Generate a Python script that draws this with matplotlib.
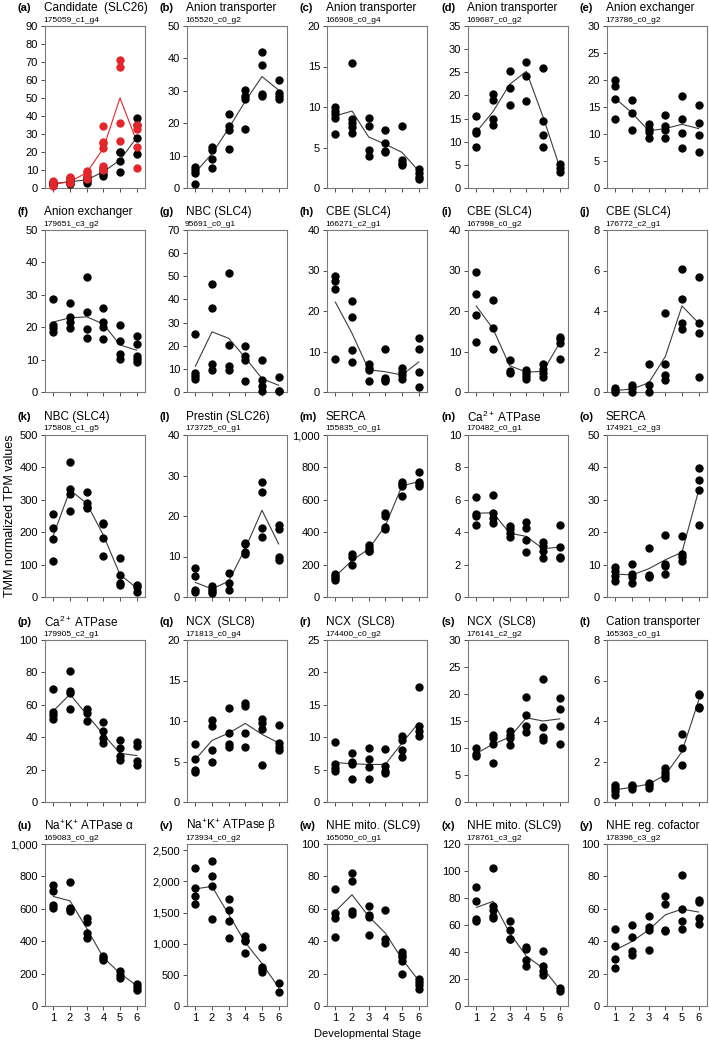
import numpy as np
import matplotlib
matplotlib.use("Agg")
import matplotlib.pyplot as plt
from matplotlib.ticker import FuncFormatter

plt.rcParams['font.family'] = ['Liberation Sans', 'DejaVu Sans']
plt.rcParams['mathtext.fontset'] = 'custom'
plt.rcParams['mathtext.rm'] = 'Liberation Sans'
plt.rcParams['mathtext.it'] = 'Liberation Sans:italic'
plt.rcParams['mathtext.bf'] = 'Liberation Sans:bold'

stages = [1, 2, 3, 4, 5, 6]

# ---------------- data (replicate values per stage, and mean line) ----------------
a_pts = [[1.5, 2.5, 3, 3.5], [2, 3, 4.5, 5.5], [3, 4, 5, 6], [6.5, 8, 9.5, 11], [9, 15, 20, 20], [19, 28, 35, 39]]
a_mean = [2.5, 3.5, 4.5, 9, 15.5, 28]
a_red_pts = [[1, 3, 4], [3, 5, 6], [5, 7, 9, 9.5], [10, 12, 22.5, 25, 25.5, 34.5], [26, 36, 67.5, 71], [11, 23, 33, 35]]
a_red_mean = [2, 3.5, 8.5, 22, 50, 26]

b_pts = [[1.2, 4.5, 5.5, 6.5], [6.2, 9, 11.7, 12.7], [11.9, 18, 19, 22.9], [18.2, 27.6, 28.3, 30.4], [28.3, 29, 38, 42], [27.6, 28.3, 29.3, 33.4]]
b_mean = [4.8, 10.6, 18.4, 26.8, 34.4, 30.2]

c_pts = [[6.7, 8.7, 9.1, 9.5, 10], [6.8, 7.5, 8, 8.5, 15.4], [3.9, 4.7, 7.7, 8.6], [4.4, 4.6, 5.6, 7.1], [2.9, 3.1, 3.4, 7.7], [1.1, 1.4, 1.9, 2.4]]
c_mean = [8.9, 9.5, 6.3, 5.4, 4.4, 2.1]

d_pts = [[8.9, 11.8, 12.3, 15.5], [13.6, 14.9, 19, 20.3], [17.9, 21.7, 25.2], [18.9, 24.3, 27.2], [8.9, 11.5, 14.5, 25.9], [3.4, 4.3, 5.2]]
d_mean = [12.1, 16.5, 22.4, 25.2, 15.4, 4.5]

e_pts = [[12.8, 16.5, 18.9, 20], [10.8, 13.9, 16.3], [9.3, 10.3, 11, 11.8], [9.3, 10.7, 11.5, 13.6], [7.4, 10.1, 12.8, 17], [6.7, 9.8, 12.1, 15.4]]
e_mean = [16.6, 13.9, 10.6, 11, 11.8, 11]

f_pts = [[18.6, 19.6, 20.6, 28.6], [19.6, 21.6, 23.2, 27.6], [16.6, 19.3, 24.8, 35.6], [16.5, 20, 21.6, 26], [10.3, 11.6, 15.7, 20.7], [9.2, 10.2, 11, 14.7, 17.3]]
f_mean = [21.6, 22.9, 23.2, 21, 14.5, 12.9]

g_pts = [[5.6, 6.8, 8, 25.2], [9.7, 12.3, 36.3, 46.6], [9.3, 11.4, 20.5, 51.5], [4.6, 14, 15.5, 19.8], [0.6, 2.5, 5.4, 13.7], [0.3, 0.5, 6.4]]
g_mean = [11.1, 26, 23.2, 14.8, 5.8, 2.9]

h_pts = [[8.2, 25.4, 27.4, 28.7], [7.4, 10.3, 18.4, 22.5], [2.6, 5.4, 6, 6.9], [2.8, 3.0, 3.5, 10.5], [3.1, 4.1, 5, 6], [1.2, 5, 10.5, 13.4]]
h_mean = [22.2, 14.5, 5.5, 5.0, 4.2, 7.4]

i_pts = [[12.4, 19.1, 24.3, 29.7], [10.7, 15.9, 22.6], [5.1, 4.7, 8], [3.3, 3.9, 4.7, 5.4], [3.6, 4.7, 5.8, 6.9], [8.2, 12.1, 13, 13.6]]
i_mean = [21.2, 15.6, 6.5, 4.9, 5.1, 12.1]

j_pts = [[0, 0.12, 0.2], [0, 0.2, 0.37], [0, 0.37, 1.37], [0.58, 0.83, 1.37, 3.9], [3.12, 3.42, 4.58, 6.08], [0.72, 2.92, 3.42, 5.7]]
j_mean = [0.07, 0.15, 0.45, 1.75, 4.25, 3.4]

k_pts = [[110, 178, 214, 255], [265, 319, 333, 417], [274, 278, 291, 325], [128, 183, 226, 229], [38, 43, 67, 121], [14, 30, 38]]
k_mean = [190, 330, 289, 191, 69, 28]

l_pts = [[1.2, 1.8, 5.1, 7.2], [1, 1.4, 2, 2.6], [1.8, 3.5, 6], [10.5, 11.1, 13, 13.4], [14.8, 17.1, 26, 28.5], [9.1, 9.8, 16.7, 17.8]]
l_mean = [3.6, 2, 3.9, 12, 21.4, 13.1]

m_pts = [[103, 117, 127, 142], [199, 250, 265], [281, 287, 302, 318], [421, 433, 501, 517], [626, 686, 698, 712], [688, 698, 712, 770]]
m_mean = [127, 226, 296, 440, 686, 712]

n_pts = [[4.44, 4.97, 5.13, 6.16], [4.54, 4.9, 5.17, 6.3], [3.7, 3.94, 4.2, 4.41], [2.75, 3.53, 4.25, 4.66], [2.4, 2.87, 3.12, 3.39], [2.4, 2.5, 3.08, 4.46]]
n_mean = [5.17, 5.2, 3.94, 3.74, 2.98, 3.08]

o_pts = [[5, 6.6, 7.9, 9.4], [4.3, 6.1, 7.1, 10.2], [6.2, 6.9, 6.5, 15.1], [7.1, 9.6, 10.2, 19], [11, 12.2, 13.2, 18.7], [22.1, 32.9, 36.1, 39.9]]
o_mean = [7.1, 6.8, 8.7, 11.5, 13.8, 32.9]

p_pts = [[51.4, 53.5, 55.6, 70], [57.2, 67, 68.6, 81], [50, 55.2, 57.2], [36.6, 39.7, 43.8, 49.4], [25.8, 28.3, 33.5, 38.2], [23.1, 25.2, 34.5, 37]]
p_mean = [56.2, 66.5, 54, 41.7, 30, 28.7]

q_pts = [[3.7, 4, 5.3, 7.1], [5, 6.4, 9.4, 10.1], [6.8, 7.1, 8.5, 11.6], [6.8, 8.5, 11.8, 12.2], [4.6, 9, 9.8, 10.3], [6.4, 6.8, 7.3, 9.5]]
q_mean = [5.25, 7.6, 8.5, 9.7, 8.35, 7.3]

r_pts = [[4.75, 5.3, 5.8, 9.2], [3.6, 5.8, 6.2, 7.6], [3.5, 5.4, 6.7, 8.3], [4.5, 4.75, 5.5, 8.2], [7, 8.1, 9.5, 10.2], [10.2, 11, 11.8, 17.7]]
r_mean = [6.1, 5.9, 5.8, 5.8, 9.1, 12.2]

s_pts = [[8.5, 8.9, 10], [7.3, 10.7, 11.9, 12.5], [10.5, 11.9, 12.5, 13.1], [13, 14.1, 16.2, 19.5], [11.4, 12, 13.9, 22.7], [10.8, 14.1, 17.2, 19.2]]
s_mean = [9, 10.7, 12, 15.6, 15, 15.4]

t_pts = [[0.36, 0.52, 0.69, 0.85], [0.65, 0.77, 0.85], [0.69, 0.82, 0.93], [1.18, 1.31, 1.5, 1.67], [1.83, 2.68, 3.34], [4.62, 4.7, 5.27, 5.35]]
t_mean = [0.6, 0.73, 0.88, 1.34, 2.49, 5.02]

u_pts = [[608, 625, 707, 748], [588, 600, 608, 763], [418, 449, 517, 546], [285, 295, 309], [171, 192, 216], [99, 115, 136]]
u_mean = [676, 649, 480, 299, 202, 126]

v_pts = [[1640, 1758, 1892, 2220], [1398, 1919, 2081, 2323], [1091, 1360, 1543, 1720], [849, 1038, 1059, 1129], [548, 591, 629, 952], [231, 366]]
v_mean = [1880, 1919, 1470, 1019, 680, 298]

w_pts = [[42.3, 54.2, 57.7, 72.4], [56.9, 58.4, 77.3, 82], [43.9, 54.8, 55.9, 62], [38.8, 41.4, 59.4], [19.6, 28, 30.1, 31.5, 33.2], [10.5, 13, 15, 16.7]]
w_mean = [58.4, 68.7, 55.3, 45, 29, 15.7]

x_pts = [[62.6, 64.4, 78, 88], [65, 67, 71, 74, 102], [49.5, 50, 56.5, 63], [30, 34, 42, 44], [23, 26, 30, 41], [11, 13.1]]
x_mean = [73, 77.5, 54, 37, 28, 12.5]

y_pts = [[23.7, 29, 37.3, 47.4], [31.5, 34, 42.3, 50.1], [34.6, 47, 48.7, 55.3], [46.4, 47, 62.9, 67.6], [47.4, 52.6, 59.8, 81], [50.5, 54.2, 64.1, 65.6]]
y_mean = [34.6, 39.8, 47, 56.3, 59.8, 58]

letters = list("abcdefghijklmnopqrstuvwxy")
titles = ["Candidate  (SLC26)", "Anion transporter", "Anion transporter", "Anion transporter", "Anion exchanger",
          "Anion exchanger", "NBC (SLC4)", "CBE (SLC4)", "CBE (SLC4)", "CBE (SLC4)",
          "NBC (SLC4)", "Prestin (SLC26)", "SERCA", r"Ca$^{\mathrm{2+}}$ ATPase", "SERCA",
          r"Ca$^{\mathrm{2+}}$ ATPase", "NCX  (SLC8)", "NCX  (SLC8)", "NCX  (SLC8)", "Cation transporter",
          r"Na$^{\mathrm{+}}$K$^{\mathrm{+}}$ ATPase α", r"Na$^{\mathrm{+}}$K$^{\mathrm{+}}$ ATPase β",
          "NHE mito. (SLC9)", "NHE mito. (SLC9)", "NHE reg. cofactor"]
gene_ids = ["175059_c1_g4", "165520_c0_g2", "166908_c0_g4", "169687_c0_g2", "173786_c0_g2",
            "179651_c3_g2", "95691_c0_g1", "166271_c2_g1", "167998_c0_g2", "176772_c2_g1",
            "175808_c1_g5", "173725_c0_g1", "155835_c0_g1", "170482_c0_g1", "174921_c2_g3",
            "179905_c2_g1", "171813_c0_g4", "174400_c0_g2", "176141_c2_g2", "165363_c0_g1",
            "169083_c0_g2", "173934_c0_g2", "165050_c0_g1", "178761_c3_g2", "178396_c3_g2"]
y_max = [90, 50, 20, 35, 30, 50, 70, 40, 40, 8, 500, 40, 1000, 10, 50, 100, 20, 25, 30, 8, 1000, 2600, 100, 120, 100]
y_step = [10, 10, 5, 5, 5, 10, 10, 10, 10, 2, 100, 10, 200, 2, 10, 20, 5, 5, 5, 2, 200, 500, 20, 20, 20]
y_top_tick = [90, 50, 20, 35, 30, 50, 70, 40, 40, 8, 500, 40, 1000, 10, 50, 100, 20, 25, 30, 8, 1000, 2500, 100, 120, 100]

all_pts = [a_pts, b_pts, c_pts, d_pts, e_pts, f_pts, g_pts, h_pts, i_pts, j_pts, k_pts, l_pts, m_pts,
           n_pts, o_pts, p_pts, q_pts, r_pts, s_pts, t_pts, u_pts, v_pts, w_pts, x_pts, y_pts]
all_means = [a_mean, b_mean, c_mean, d_mean, e_mean, f_mean, g_mean, h_mean, i_mean, j_mean, k_mean, l_mean,
             m_mean, n_mean, o_mean, p_mean, q_mean, r_mean, s_mean, t_mean, u_mean, v_mean, w_mean, x_mean, y_mean]

# ---------------- layout ----------------
W, H = 709, 1045
fig = plt.figure(figsize=(W / 100, H / 100), dpi=100)
fig.patch.set_facecolor('white')

lefts = [45, 187, 327, 468, 607]
tops = [26, 230, 435, 640, 844]
aw, ah = 100, 162

comma = FuncFormatter(lambda v, p: f"{v:,.0f}")
spine_col = '#7a7a7a'

for idx in range(25):
    r, c = divmod(idx, 5)
    L, T = lefts[c], tops[r]
    ax = fig.add_axes([L / W, 1 - (T + ah) / H, aw / W, ah / H])
    pts = all_pts[idx]
    for s_i, vals in zip(stages, pts):
        ax.scatter([s_i] * len(vals), vals, s=36, c='black', linewidths=0, zorder=3, clip_on=False)
    ax.plot(stages, all_means[idx], color='#3c3c3c', lw=0.8, zorder=2)
    if idx == 0:
        for s_i, vals in zip(stages, a_red_pts):
            ax.scatter([s_i] * len(vals), vals, s=36, c='#e3262b', linewidths=0, zorder=4, clip_on=False)
        ax.plot(stages, a_red_mean, color='#e3262b', lw=0.8, zorder=2)
    ax.set_xlim(0.5, 6.5)
    ax.set_ylim(0, y_max[idx])
    ax.set_yticks(np.arange(0, y_top_tick[idx] + 0.001, y_step[idx]))
    ax.set_xticks(stages)
    if y_max[idx] >= 1000:
        ax.yaxis.set_major_formatter(comma)
    if r < 4:
        ax.set_xticklabels([])
    for sp in ax.spines.values():
        sp.set_color(spine_col)
        sp.set_linewidth(0.8)
    ax.tick_params(direction='out', length=3, width=0.6, color='#303030', labelsize=8, pad=2)
    # titles
    fig.text((L - 27) / W, 1 - (T - 18) / H, f"({letters[idx]})", fontsize=8, fontweight='bold',
             ha='left', va='center')
    fig.text((L - 1) / W, 1 - (T - 18) / H, titles[idx], fontsize=8.5, ha='left', va='center')
    fig.text((L - 2) / W, 1 - (T - 6) / H, gene_ids[idx], fontsize=6, ha='left', va='center')

fig.text(10 / W, 1 - 516 / H, "TMM normalized TPM values", rotation=90, fontsize=9, ha='center', va='center')
fig.text(368 / W, 1 - 1034 / H, "Developmental Stage", fontsize=8, ha='center', va='center')

fig.savefig("out.png", dpi=100, facecolor='white')
